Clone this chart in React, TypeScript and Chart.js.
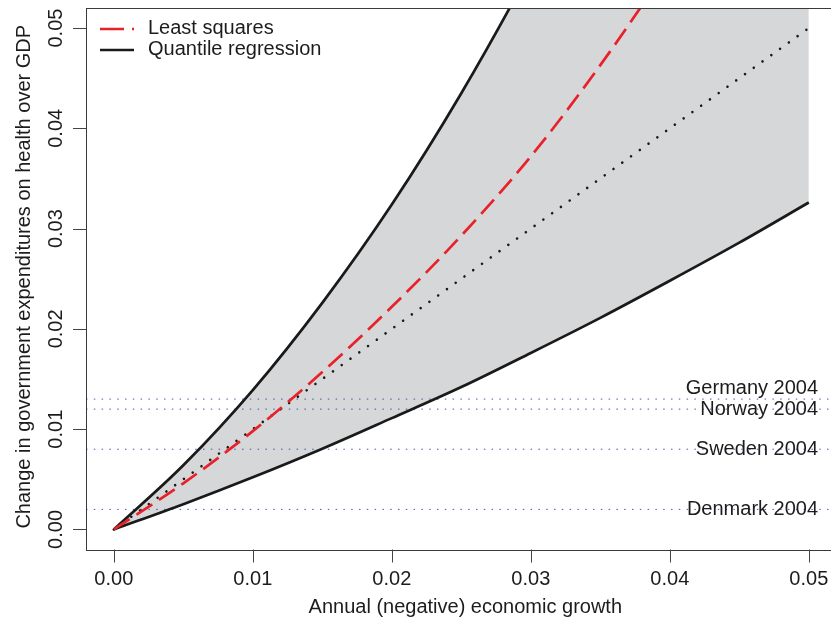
import React, { useEffect, useRef } from "react";
import { Chart, registerables } from "chart.js";

Chart.register(...registerables);

// ---- data ----
const growthGrid = [0, 0.005, 0.01, 0.015, 0.02, 0.025, 0.03, 0.035, 0.04, 0.045, 0.05];
const leastSquares = [0, 0.0046, 0.0098, 0.0157, 0.0222, 0.0293, 0.0372, 0.0463, 0.0564, 0.0672, 0.0792];
const quantileUpper = [0, 0.0064, 0.0139, 0.0226, 0.0324, 0.0435, 0.0559, 0.0695, 0.0842, 0.1002, 0.1173];
const quantileLower = [0, 0.00252, 0.0052, 0.00805, 0.0111, 0.0142, 0.0176, 0.0211, 0.0248, 0.0286, 0.0326];
const identityX = [0, 0.05];
const identityY = [0, 0.05];

const countries = ["Germany 2004", "Norway 2004", "Sweden 2004", "Denmark 2004"];
const countryValues = [0.013, 0.012, 0.008, 0.002];
const countryLabelY = [0.0141, 0.012, 0.008, 0.002];
const countryLabelX = 0.05067;

const xTicks = [0, 0.01, 0.02, 0.03, 0.04, 0.05];
const xTickLabels = ["0.00", "0.01", "0.02", "0.03", "0.04", "0.05"];
const yTicks = [0, 0.01, 0.02, 0.03, 0.04, 0.05];
const yTickLabels = ["0.00", "0.01", "0.02", "0.03", "0.04", "0.05"];

const xTitle = "Annual (negative) economic growth";
const yTitle = "Change in government expenditures on health over GDP";
const legendLabels = ["Least squares", "Quantile regression"];

const axisMin = -0.002;
const axisMax = 0.052;

// ---- styles ----
const FONT = '20px "Liberation Sans", Arial, Helvetica, sans-serif';
const TEXT = "#1c1c1c";
const RED = "#e8222a";
const BLACK = "#1a1a1a";
const FILL = "#d6d7d9";
const REFLINE = "rgba(50,70,170,0.9)";
const BOX = "#3a3a3a";
const LS_DASH = [19, 8];

const rStylePlugin = {
  id: "rStyle",
  afterDatasetsDraw(chart: any) {
    const { ctx, chartArea, scales } = chart;
    const xs = scales.x;
    const ys = scales.y;
    ctx.save();
    ctx.font = FONT;
    ctx.fillStyle = TEXT;
    ctx.textAlign = "right";
    ctx.textBaseline = "middle";
    countries.forEach((c, i) => {
      ctx.fillText(c, xs.getPixelForValue(countryLabelX), ys.getPixelForValue(countryLabelY[i]));
    });

    // legend (top-left, inside the box)
    const lx0 = chartArea.left + 14;
    const lx1 = chartArea.left + 48;
    const tx = chartArea.left + 62;
    const rows = [chartArea.top + 21, chartArea.top + 42];
    ctx.lineWidth = 2.7;
    ctx.lineCap = "butt";
    ctx.strokeStyle = RED;
    ctx.setLineDash([24, 8]);
    ctx.beginPath();
    ctx.moveTo(lx0, rows[0]);
    ctx.lineTo(lx1, rows[0]);
    ctx.stroke();
    ctx.setLineDash([]);
    ctx.strokeStyle = BLACK;
    ctx.beginPath();
    ctx.moveTo(lx0, rows[1]);
    ctx.lineTo(lx1, rows[1]);
    ctx.stroke();
    ctx.textAlign = "left";
    ctx.fillText(legendLabels[0], tx, rows[0] - 1);
    ctx.fillText(legendLabels[1], tx, rows[1] - 1);
    ctx.restore();
  },
  afterDraw(chart: any) {
    const { ctx, chartArea, scales } = chart;
    const xs = scales.x;
    const ys = scales.y;
    const { left, right, top, bottom } = chartArea;
    ctx.save();
    // box
    ctx.strokeStyle = BOX;
    ctx.lineWidth = 1;
    ctx.strokeRect(Math.round(left) + 0.5, Math.round(top) + 0.5, Math.round(right - left), Math.round(bottom - top));

    // ticks
    ctx.strokeStyle = "#444";
    ctx.beginPath();
    xTicks.forEach((v) => {
      const px = Math.round(xs.getPixelForValue(v)) + 0.5;
      ctx.moveTo(px, bottom);
      ctx.lineTo(px, bottom + 13);
    });
    yTicks.forEach((v) => {
      const py = Math.round(ys.getPixelForValue(v)) + 0.5;
      ctx.moveTo(left, py);
      ctx.lineTo(left - 13, py);
    });
    ctx.stroke();

    ctx.font = FONT;
    ctx.fillStyle = TEXT;
    ctx.textAlign = "center";
    ctx.textBaseline = "middle";
    xTicks.forEach((v, i) => {
      ctx.fillText(xTickLabels[i], xs.getPixelForValue(v), bottom + 30);
    });
    yTicks.forEach((v, i) => {
      ctx.save();
      ctx.translate(left - 30, ys.getPixelForValue(v));
      ctx.rotate(-Math.PI / 2);
      ctx.fillText(yTickLabels[i], 0, 0);
      ctx.restore();
    });

    // axis titles
    ctx.fillText(xTitle, (left + right) / 2 + 4, bottom + 58);
    ctx.save();
    ctx.translate(left - 62, (top + bottom) / 2 - 2);
    ctx.rotate(-Math.PI / 2);
    ctx.fillText(yTitle, 0, 0);
    ctx.restore();
    ctx.restore();
  },
};

export default function App() {
  const canvasRef = useRef<HTMLCanvasElement | null>(null);

  useEffect(() => {
    const canvas = canvasRef.current;
    if (!canvas) return;

    const pts = (xsArr: number[], ysArr: number[]) => xsArr.map((x, i) => ({ x, y: ysArr[i] }));

    const refSets = countryValues.map((v) => ({
      label: "ref",
      data: [
        { x: axisMin, y: v },
        { x: axisMax, y: v },
      ],
      borderColor: REFLINE,
      borderWidth: 1,
      borderDash: [1.5, 6.3],
      pointRadius: 0,
      fill: false,
      clip: 0,
    }));

    const chart = new Chart(canvas, {
      type: "line",
      data: {
        datasets: [
          {
            label: legendLabels[0],
            data: pts(growthGrid, leastSquares),
            borderColor: RED,
            borderWidth: 2.7,
            borderDash: LS_DASH,
            pointRadius: 0,
            cubicInterpolationMode: "monotone",
            fill: false,
            clip: 0,
          },
          {
            label: legendLabels[1] + " upper",
            data: pts(growthGrid, quantileUpper),
            borderColor: BLACK,
            borderWidth: 2.7,
            pointRadius: 0,
            cubicInterpolationMode: "monotone",
            fill: { target: 2 },
            backgroundColor: FILL,
            clip: 0,
          },
          {
            label: legendLabels[1] + " lower",
            data: pts(growthGrid, quantileLower),
            borderColor: BLACK,
            borderWidth: 2.7,
            pointRadius: 0,
            cubicInterpolationMode: "monotone",
            fill: false,
            clip: 0,
          },
          {
            label: "identity",
            data: pts(identityX, identityY),
            borderColor: BLACK,
            borderWidth: 2.6,
            borderDash: [0.01, 10.8],
            borderCapStyle: "round",
            pointRadius: 0,
            fill: false,
            clip: 0,
          },
          ...refSets,
        ],
      } as any,
      options: {
        responsive: false,
        maintainAspectRatio: false,
        animation: false,
        devicePixelRatio: 1,
        events: [],
        layout: { padding: { left: 86, top: 8, right: 13.4, bottom: 71.5 } },
        scales: {
          x: { type: "linear", min: axisMin, max: axisMax, display: false },
          y: { type: "linear", min: axisMin, max: axisMax, display: false },
        },
        plugins: {
          legend: { display: false },
          tooltip: { enabled: false },
          filler: { drawTime: "beforeDatasetsDraw" },
        } as any,
      },
      plugins: [rStylePlugin],
    });

    return () => chart.destroy();
  }, []);

  return (
    <div
      style={{
        position: "fixed",
        left: 0,
        top: 0,
        width: 831,
        height: 621,
        overflow: "hidden",
        background: "#fff",
      }}
    >
      <canvas ref={canvasRef} width={850} height={621} style={{ display: "block", width: 850, height: 621 }} />
    </div>
  );
}
